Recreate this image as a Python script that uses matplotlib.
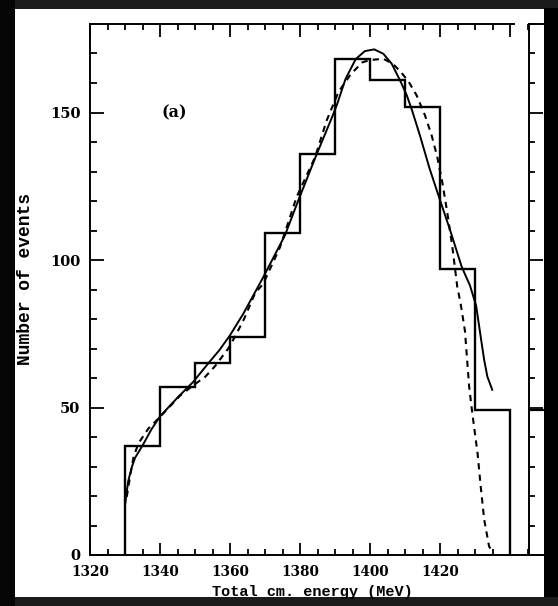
import matplotlib
matplotlib.use("Agg")
import matplotlib.pyplot as plt
from matplotlib.patches import Rectangle
from matplotlib.ticker import MultipleLocator

# histogram (10 MeV bins)
bin_edges = [1330, 1340, 1350, 1360, 1370, 1380, 1390, 1400, 1410, 1420, 1430, 1440]
counts = [37, 57, 65, 74, 109, 136, 168, 161, 152, 97, 49]

# solid curve
solid_x = [1330.0, 1330.9, 1332.0, 1332.9, 1335.2, 1337.5, 1340.0, 1345.2, 1349.5,
           1353.8, 1357.0, 1360.0, 1363.8, 1369.5, 1375.7, 1379.5, 1384.8, 1389.0,
           1390.5, 1393.0, 1395.9, 1398.5, 1401.2, 1403.8, 1406.2, 1408.6, 1410.5,
           1412.0, 1414.3, 1417.0, 1419.7, 1422.9, 1426.2, 1428.5, 1430.3, 1431.6,
           1432.6, 1433.5, 1434.9]
solid_y = [16.9, 25.0, 30.0, 33.0, 37.5, 42.5, 47.0, 53.6, 58.7,
           65.0, 69.5, 74.5, 81.8, 94.2, 108.4, 120.2, 136.0, 148.0,
           152.5, 161.4, 168.1, 170.8, 171.4, 169.9, 166.5, 160.8, 155.8,
           150.7, 142.0, 131.0, 121.3, 110.0, 97.6, 91.5, 84.5, 74.0,
           66.1, 60.5, 56.0]

# dashed curve
dashed_x = [1330.5, 1331.5, 1332.4, 1333.8, 1336.7, 1340.0, 1345.7, 1349.5, 1352.9,
            1355.7, 1359.5, 1361.4, 1364.0, 1367.1, 1369.5, 1374.3, 1379.0, 1384.3,
            1387.6, 1391.0, 1394.5, 1397.8, 1400.0, 1403.8, 1406.5, 1408.6, 1411.0,
            1413.3, 1415.7, 1417.6, 1419.2, 1420.7, 1422.1, 1423.5, 1424.9, 1425.9,
            1427.1, 1428.3, 1429.2, 1430.7, 1431.6, 1432.6, 1434.0, 1434.9]
dashed_y = [19.7, 27.0, 33.0, 37.8, 42.9, 46.8, 54.0, 57.5, 60.4,
            64.0, 70.0, 74.0, 80.0, 88.6, 92.0, 104.4, 121.3, 134.9,
            147.3, 157.0, 163.0, 167.0, 167.8, 168.2, 166.5, 164.0, 160.5,
            155.8, 149.0, 142.2, 134.9, 125.9, 115.7, 104.5, 91.0, 85.0,
            76.0, 57.1, 48.1, 34.5, 23.3, 12.0, 2.9, 1.2]

x_major = [1320, 1340, 1360, 1380, 1400, 1420, 1440]
x_labels = ["1320", "1340", "1360", "1380", "1400", "1420", ""]
y_major = [0, 50, 100, 150]

# neighbouring panel (b), only its left edge is visible
b_level = [49]

W, H = 558, 606
fig = plt.figure(figsize=(W / 100, H / 100), dpi=100, facecolor="#1b1b1b")
fig.patches.append(Rectangle((0, 0), 15 / W, 1, transform=fig.transFigure,
                             facecolor="#050505", edgecolor="none", zorder=-3))
fig.patches.append(Rectangle((544 / W, 9 / H), 14 / W, 589 / H, transform=fig.transFigure,
                             facecolor="black", edgecolor="none", zorder=-3))
fig.patches.append(Rectangle((15 / W, 9 / H), 529 / W, 588 / H, transform=fig.transFigure,
                             facecolor="white", edgecolor="none", zorder=-2))

serif = "DejaVu Serif"
mono = "Liberation Mono"

ax = fig.add_axes([90 / W, 51 / H, 439 / W, 531 / H])
ax.set_facecolor("none")
ax.set_xlim(1320, 1445.4)
ax.set_ylim(0, 180)

ax.stairs(counts, bin_edges, baseline=0, color="black", lw=1.7)
ax.plot(solid_x, solid_y, color="black", lw=1.4)
ax.plot(dashed_x, dashed_y, color="black", lw=1.5, dashes=(3, 2.5))

ax.spines["right"].set_visible(False)
ax.spines["top"].set_bounds(1320, 1441)
for s in ["left", "top", "bottom"]:
    ax.spines[s].set_linewidth(1.4)

ax.set_xticks(x_major, x_labels)
ax.set_yticks(y_major)
ax.xaxis.set_minor_locator(MultipleLocator(5))
ax.yaxis.set_minor_locator(MultipleLocator(10))
ax.tick_params(axis="x", which="both", direction="in", top=True, bottom=True, width=1.3)
ax.tick_params(axis="x", which="major", length=9, pad=7)
ax.tick_params(axis="x", which="minor", length=4.5)
ax.tick_params(axis="y", which="both", direction="in", left=True, right=False, width=1.3)
ax.tick_params(axis="y", which="major", length=10, pad=7)
ax.tick_params(axis="y", which="minor", length=5)
for lab in ax.get_xticklabels():
    lab.set_fontfamily(serif)
    lab.set_fontweight("bold")
    lab.set_fontsize(9.8)
for lab in ax.get_yticklabels():
    lab.set_fontfamily(serif)
    lab.set_fontweight("bold")
    lab.set_fontsize(10.5)

ax.set_xlabel("Total cm. energy (MeV)", family=mono, weight="bold", fontsize=11)
ax.xaxis.set_label_coords(0.506, -0.057)
ax.set_ylabel("Number of events", family=mono, weight="bold", fontsize=13)
ax.yaxis.set_label_coords(-0.128, 0.52)

ax.text(1344, 150, "(a)", family=serif, weight="bold", fontsize=11.5,
        ha="center", va="center")

# panel (b) edge
axb = fig.add_axes([529 / W, 51 / H, 15 / W, 531 / H])
axb.set_facecolor("none")
axb.set_xlim(0, 1)
axb.set_ylim(0, 180)
axb.spines["right"].set_visible(False)
for s in ["left", "top", "bottom"]:
    axb.spines[s].set_linewidth(1.4)
axb.hlines(b_level, 0, 1, color="black", lw=1.6)
axb.set_xticks([])
axb.set_yticks(y_major, [""] * len(y_major))
axb.yaxis.set_minor_locator(MultipleLocator(10))
axb.tick_params(axis="y", which="both", direction="in", width=1.3)
axb.tick_params(axis="y", which="major", length=10)
axb.tick_params(axis="y", which="minor", length=4)

fig.savefig("out.png", dpi=100, facecolor=fig.get_facecolor())
